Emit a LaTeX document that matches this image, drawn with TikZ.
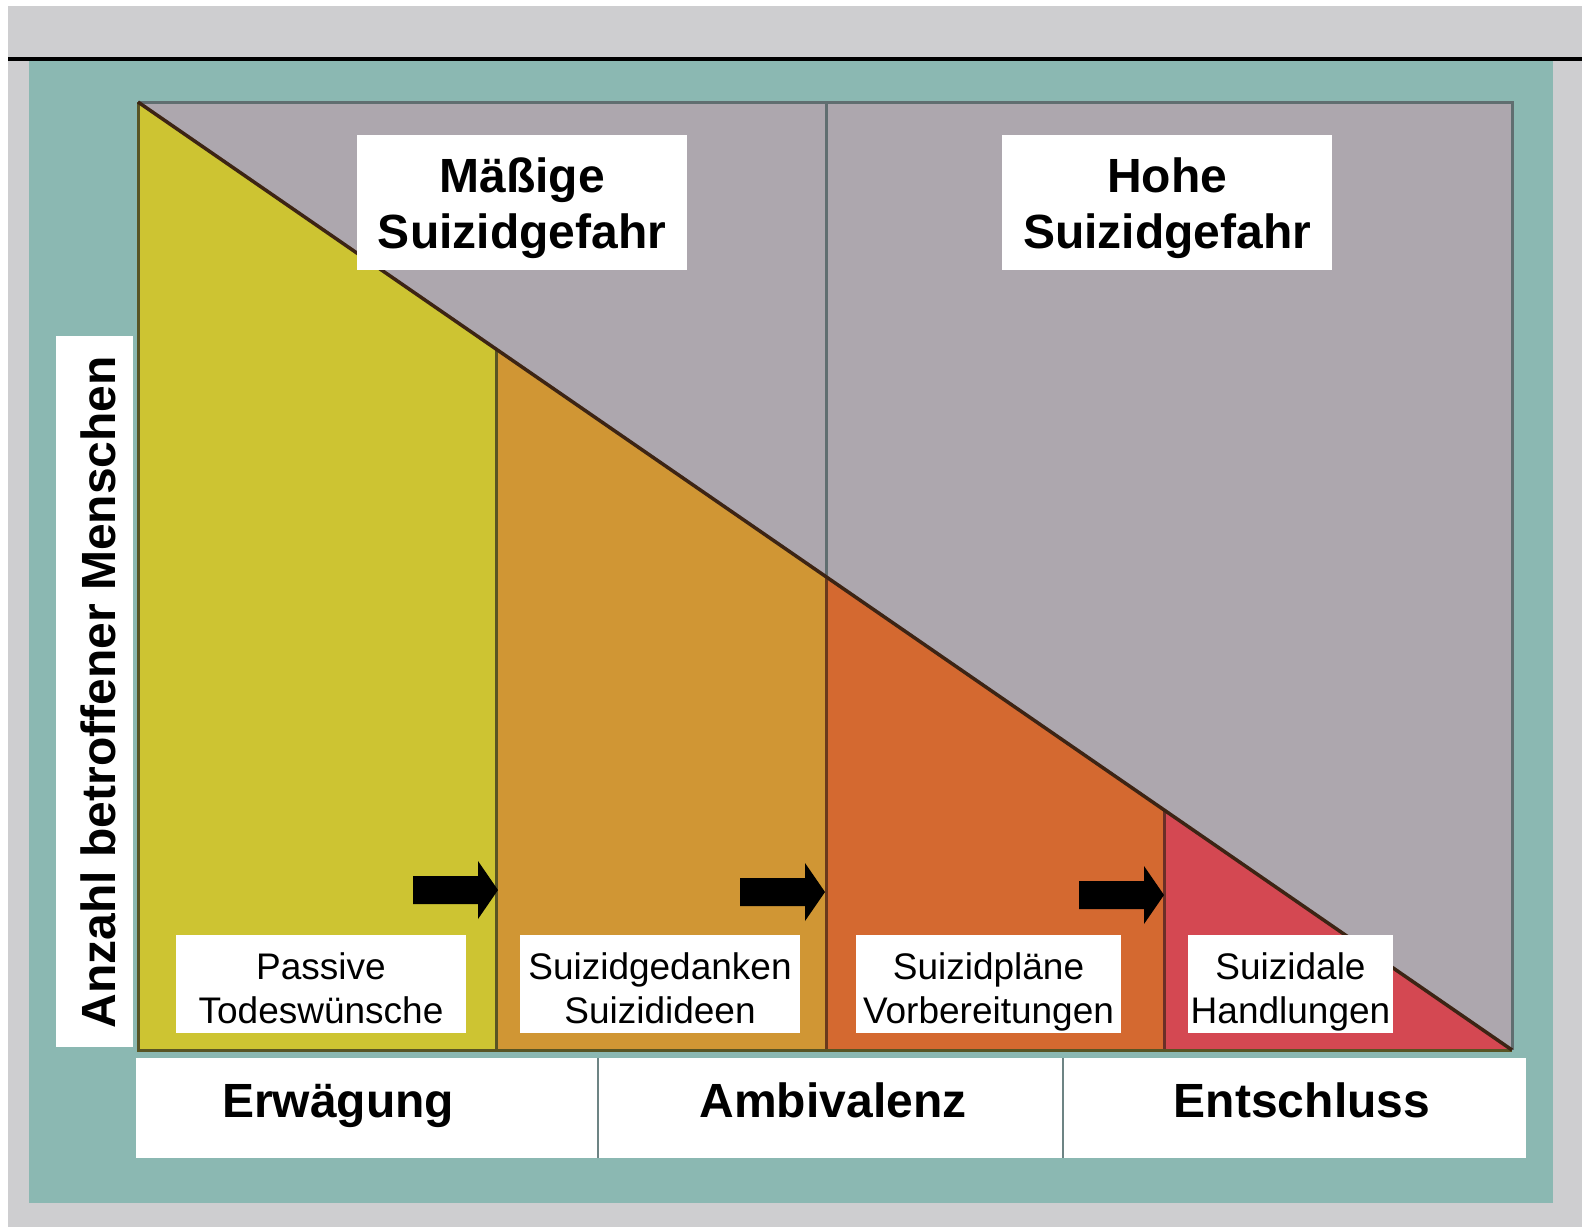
\documentclass[tikz,border=0pt]{standalone}
\usepackage{fontspec}
\setmainfont{Liberation Sans}
\usetikzlibrary{calc}

\definecolor{randgrau}{RGB}{206,206,208}
\definecolor{petrol}{RGB}{139,184,178}
\definecolor{feldgrau}{RGB}{173,167,174}
\definecolor{gelb}{RGB}{205,196,50}
\definecolor{orangehell}{RGB}{208,150,52}
\definecolor{orangedunkel}{RGB}{212,105,48}
\definecolor{rot}{RGB}{212,72,82}
\definecolor{linieoliv}{RGB}{88,84,36}
\definecolor{liniegrau}{RGB}{96,110,112}
\definecolor{liniebraun}{RGB}{60,36,20}

\begin{document}
\begin{tikzpicture}[x=0.5pt,y=-0.5pt,
	kasten/.style={fill=white,inner sep=0pt},
	gross/.style={font=\fontsize{24}{28}\selectfont\bfseries,anchor=base,inner sep=0pt},
	klein/.style={font=\fontsize{18.5}{22}\selectfont,anchor=base,inner sep=0pt},
	pfeil/.style={fill=black}]
	% Rand und Hintergrund
	\useasboundingbox[fill=white] (0,0) rectangle (1582,1227);
	\fill[randgrau] (8,6) rectangle (1582,1227);
	\fill[petrol] (29,61) rectangle (1553,1203);
	\draw[black,line width=2pt] (8,59) -- (1582,59);
	% Feld mit Dreieck
	\coordinate (ol) at (138,102);
	\coordinate (or) at (1512,102);
	\coordinate (ul) at (138,1050);
	\coordinate (ur) at (1512,1050);
	\coordinate (d1) at (496,349);
	\coordinate (d2) at (826,577);
	\coordinate (d3) at (1164,810);
	\fill[feldgrau] (ol) rectangle (ur);
	\fill[gelb] (ol) -- (d1) -- (496,1050) -- (ul) -- cycle;
	\fill[orangehell] (d1) -- (d2) -- (826,1050) -- (496,1050) -- cycle;
	\fill[orangedunkel] (d2) -- (d3) -- (1164,1050) -- (826,1050) -- cycle;
	\fill[rot] (d3) -- (ur) -- (1164,1050) -- cycle;
	\draw[liniegrau,line width=1.5pt] (826,102) -- (d2);
	\draw[linieoliv,line width=1.5pt] (d1) -- (496,1050);
	\draw[liniebraun!70!orangedunkel,line width=1.5pt] (d2) -- (826,1050);
	\draw[liniebraun!70!rot,line width=1.5pt] (d3) -- (1164,1050);
	\draw[liniegrau,line width=1.5pt] (ol) -- (or) -- (ur);
	\draw[linieoliv,line width=1.5pt] (ol) -- (ul) -- (ur);
	\draw[liniebraun,line width=1.75pt] (ol) -- (ur);
	% Pfeile
	\foreach \tx/\cy in {498/890, 825/892, 1164/895}
		\fill[pfeil] (\tx-85,\cy-14) -- (\tx-20,\cy-14) -- (\tx-20,\cy-29) -- (\tx,\cy)
			-- (\tx-20,\cy+29) -- (\tx-20,\cy+14) -- (\tx-85,\cy+14) -- cycle;
	% obere Kaesten
	\node[kasten,minimum width=165pt,minimum height=67.5pt] (maessig) at (522,202.5) {};
	\node[gross] (maessig-1) at (522,192) {Mäßige};
	\node[gross] (maessig-2) at (522,248) {Suizidgefahr};
	\node[kasten,minimum width=165pt,minimum height=67.5pt] (hoch) at (1167,202.5) {};
	\node[gross] (hoch-1) at (1167,192) {Hohe};
	\node[gross] (hoch-2) at (1167,248) {Suizidgefahr};
	% untere Kaesten im Feld
	\foreach \nm/\cx/\breite/\eins/\zwei in {passiv/321/145pt/Passive/Todeswünsche,
			gedanken/660/140pt/Suizidgedanken/Suizidideen,
			plaene/988.5/132.5pt/Suizidpläne/Vorbereitungen,
			handlung/1290.5/102.5pt/Suizidale/Handlungen} {
		\node[kasten,minimum width=\breite,minimum height=49pt] (\nm) at (\cx,984) {};
		\node[klein] (\nm-1) at (\cx,979) {\eins};
		\node[klein] (\nm-2) at (\cx,1023) {\zwei};
	}
	% Achse
	\node[kasten,minimum width=38.5pt,minimum height=355.5pt] (achse) at (94.5,691.5) {};
	\node[gross,rotate=90] (achse-text) at (115,692) {Anzahl betroffener Menschen};
	% Leiste unten
	\node[kasten,minimum width=695pt,minimum height=50pt] (leiste) at (831,1108) {};
	\draw[liniegrau!70!petrol,line width=0.75pt] (598,1058) -- (598,1158);
	\draw[liniegrau!70!petrol,line width=0.75pt] (1063,1058) -- (1063,1158);
	\node[gross] (erwaegung) at (338,1117) {Erwägung};
	\node[gross] (ambivalenz) at (833,1117) {Ambivalenz};
	\node[gross] (entschluss) at (1302,1117) {Entschluss};
\end{tikzpicture}
\end{document}
